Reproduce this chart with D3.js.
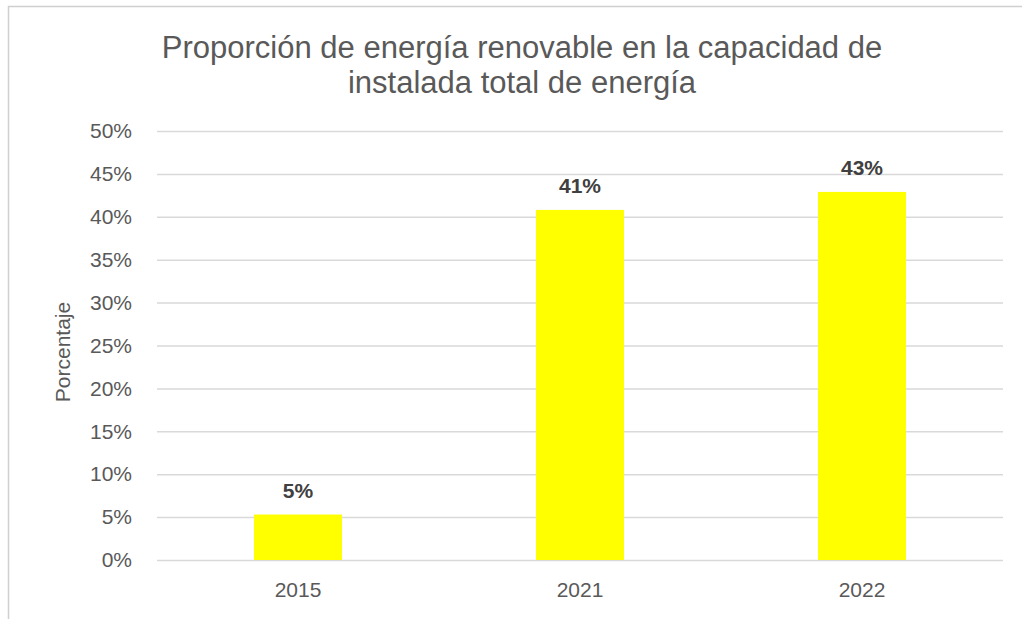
<!DOCTYPE html>
<html>
<head>
<meta charset="utf-8">
<script src="https://cdn.jsdelivr.net/npm/d3@7"></script>
<style>
  body { margin: 0; background: #fff; }
  svg { display: block; font-family: "Liberation Sans", Arial, sans-serif; }
</style>
</head>
<body>
<svg id="myGraph" width="1022" height="619"></svg>
<script>
// datos del gráfico
var years = ["2015", "2021", "2022"];
var shares = [0.053, 0.408, 0.429];
var shareLabels = ["5%", "41%", "43%"];
var yTicks = [0, 0.05, 0.10, 0.15, 0.20, 0.25, 0.30, 0.35, 0.40, 0.45, 0.50];
var titleLines = ["Proporción de energía renovable en la capacidad de", "instalada total de energía"];

var svg = d3.select("#myGraph");
var plotLeft = 157, plotRight = 1003, plotTop = 131, plotBottom = 560;

// marco del gráfico
svg.append("path")
   .attr("d", "M8.5,619 L8.5,6.5 L1022,6.5")
   .attr("fill", "none")
   .attr("stroke", "#d0d0d0")
   .attr("stroke-width", 1.5);

// escalas
var x = d3.scaleBand()
          .domain(years)
          .range([plotLeft, plotRight])
          .paddingInner(0.688)
          .paddingOuter(0.344);
var y = d3.scaleLinear()
          .domain([0, 0.5])
          .range([plotBottom, plotTop]);

// líneas de cuadrícula y etiquetas del eje Y
var yAxis = svg.append("g")
   .attr("transform", "translate(" + plotLeft + ",0)")
   .call(d3.axisLeft(y)
           .tickValues(yTicks)
           .tickFormat(d3.format(".0%"))
           .tickSize(-(plotRight - plotLeft))
           .tickPadding(25));
yAxis.select(".domain").remove();
yAxis.selectAll("line").attr("stroke", "#d9d9d9").attr("stroke-width", 1.5);
yAxis.selectAll("text")
     .attr("fill", "#595959")
     .style("font-size", "21px")
     .style("font-family", "\"Liberation Sans\", Arial, sans-serif");

// barras
svg.selectAll("rect.bar")
   .data(shares)
   .enter()
   .append("rect")
   .attr("class", "bar")
   .attr("x", function(d, i){ return x(years[i]); })
   .attr("y", function(d){ return y(d); })
   .attr("width", x.bandwidth())
   .attr("height", function(d){ return plotBottom - y(d); })
   .attr("fill", "#ffff00");

// etiquetas de valores
svg.selectAll("text.barNum")
   .data(shares)
   .enter()
   .append("text")
   .attr("class", "barNum")
   .attr("x", function(d, i){ return x(years[i]) + x.bandwidth() / 2; })
   .attr("y", function(d){ return y(d) - 17; })
   .attr("text-anchor", "middle")
   .attr("fill", "#404040")
   .attr("font-weight", "bold")
   .attr("font-size", "21px")
   .text(function(d, i){ return shareLabels[i]; });

// eje X
var xAxis = svg.append("g")
   .attr("transform", "translate(0," + plotBottom + ")")
   .call(d3.axisBottom(x).tickSize(0).tickPadding(22));
xAxis.select(".domain").remove();
xAxis.selectAll("text")
     .attr("fill", "#595959")
     .style("font-size", "21px")
     .style("font-family", "\"Liberation Sans\", Arial, sans-serif");

// título del eje Y
svg.append("text")
   .attr("transform", "translate(70,352) rotate(-90)")
   .attr("text-anchor", "middle")
   .attr("fill", "#595959")
   .attr("font-size", "21px")
   .text("Porcentaje");

// título
svg.selectAll("text.title")
   .data(titleLines)
   .enter()
   .append("text")
   .attr("class", "title")
   .attr("x", 522)
   .attr("y", function(d, i){ return 58 + i * 35; })
   .attr("text-anchor", "middle")
   .attr("fill", "#595959")
   .attr("font-size", "31px")
   .text(function(d){ return d; });
</script>
</body>
</html>
